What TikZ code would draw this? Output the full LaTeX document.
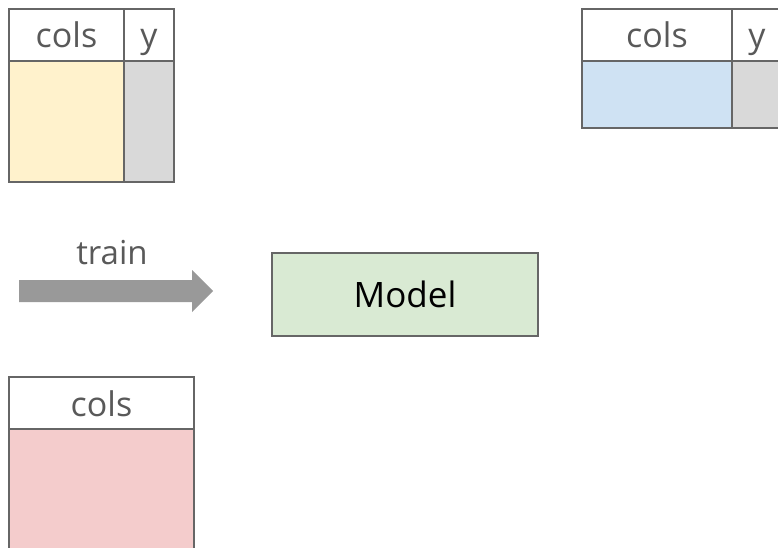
\documentclass[tikz,border=0pt]{standalone}
\usepackage{fontspec}
\setmainfont{Open Sans}

\definecolor{cellline}{HTML}{666666}
\definecolor{celltext}{HTML}{595959}
\definecolor{trainfill}{HTML}{FFF2CC}
\definecolor{labelfill}{HTML}{D9D9D9}
\definecolor{testfill}{HTML}{CFE2F3}
\definecolor{newfill}{HTML}{F4CCCC}
\definecolor{modelfill}{HTML}{D9EAD3}
\definecolor{arrowgray}{HTML}{999999}

\begin{document}
\begin{tikzpicture}[x=1pt, y=-1pt,
    cell/.style={draw=cellline, line width=2pt, inner sep=0pt, outer sep=0pt,
      anchor=north west},
    head/.style={cell, minimum height=52pt, text=celltext,
      font=\fontsize{34}{40}\selectfont, text height=26pt, text depth=0pt}]
  \useasboundingbox (0,0) rectangle (778,548);

  % training data: features and labels
  \node[head, minimum width=115pt] (traincols) at (9,9) {cols};
  \node[head, minimum width=50pt] (trainy) at (traincols.north east) {y};
  \node[cell, fill=trainfill, minimum width=115pt, minimum height=121pt] (trainx) at (traincols.south west) {};
  \node[cell, fill=labelfill, minimum width=50pt, minimum height=121pt] (trainlab) at (trainy.south west) {};

  % test data, runs off the right edge
  \node[head, minimum width=150pt] (testcols) at (582,9) {cols};
  \node[head, minimum width=50pt] (testy) at (testcols.north east) {y};
  \node[cell, fill=testfill, minimum width=150pt, minimum height=67pt] (testx) at (testcols.south west) {};
  \node[cell, fill=labelfill, minimum width=50pt, minimum height=67pt] (testlab) at (testy.south west) {};

  % new data, no labels
  \node[head, minimum width=185pt] (newcols) at (9,377) {cols};
  \node[cell, fill=newfill, minimum width=185pt, minimum height=140pt] (newx) at (newcols.south west) {};

  % training step
  \fill[arrowgray] (19,280) -- (192,280) -- (192,270) -- (213,291)
    -- (192,312) -- (192,302) -- (19,302) -- cycle;
  \node[text=celltext, font=\fontsize{33}{40}\selectfont, anchor=base] (train) at (112,264) {train};

  \node[draw=cellline, line width=1.5pt, fill=modelfill, minimum width=266pt,
    minimum height=83pt, font=\fontsize{35}{42}\selectfont] (model) at (405,294.5) {Model};
\end{tikzpicture}
\end{document}
